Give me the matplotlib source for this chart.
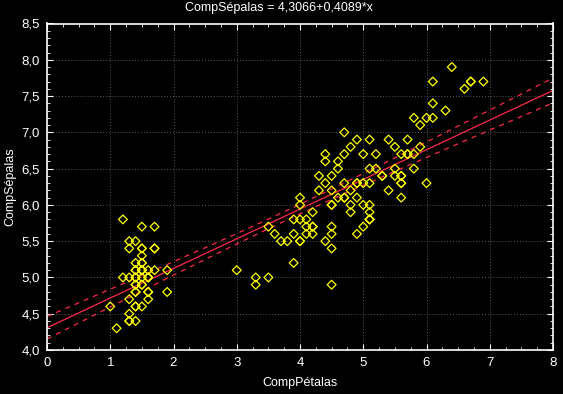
import numpy as np
import matplotlib
matplotlib.use("Agg")
import matplotlib.pyplot as plt
from matplotlib.ticker import MultipleLocator, FuncFormatter

# Iris: petal length (x) vs sepal length (y)
petal_len = [
    1.4, 1.4, 1.3, 1.5, 1.4, 1.7, 1.4, 1.5, 1.4, 1.5, 1.5, 1.6, 1.4, 1.1, 1.2, 1.5, 1.3, 1.4, 1.7, 1.5,
    1.7, 1.5, 1.0, 1.7, 1.9, 1.6, 1.6, 1.5, 1.4, 1.6, 1.6, 1.5, 1.5, 1.4, 1.5, 1.2, 1.3, 1.4, 1.3, 1.5,
    1.3, 1.3, 1.3, 1.6, 1.9, 1.4, 1.6, 1.4, 1.5, 1.4,
    4.7, 4.5, 4.9, 4.0, 4.6, 4.5, 4.7, 3.3, 4.6, 3.9, 3.5, 4.2, 4.0, 4.7, 3.6, 4.4, 4.5, 4.1, 4.5, 3.9,
    4.8, 4.0, 4.9, 4.7, 4.3, 4.4, 4.8, 5.0, 4.5, 3.5, 3.8, 3.7, 3.9, 5.1, 4.5, 4.5, 4.7, 4.4, 4.1, 4.0,
    4.4, 4.6, 4.0, 3.3, 4.2, 4.2, 4.2, 4.3, 3.0, 4.1,
    6.0, 5.1, 5.9, 5.6, 5.8, 6.6, 4.5, 6.3, 5.8, 6.1, 5.1, 5.3, 5.5, 5.0, 5.1, 5.3, 5.5, 6.7, 6.9, 5.0,
    5.7, 4.9, 6.7, 4.9, 5.7, 6.0, 4.8, 4.9, 5.6, 5.8, 6.1, 6.4, 5.6, 5.1, 5.6, 6.1, 5.6, 5.5, 4.8, 5.4,
    5.6, 5.1, 5.1, 5.9, 5.7, 5.2, 5.0, 5.2, 5.4, 5.1,
]
sepal_len = [
    5.1, 4.9, 4.7, 4.6, 5.0, 5.4, 4.6, 5.0, 4.4, 4.9, 5.4, 4.8, 4.8, 4.3, 5.8, 5.7, 5.4, 5.1, 5.7, 5.1,
    5.4, 5.1, 4.6, 5.1, 4.8, 5.0, 5.0, 5.2, 5.2, 4.7, 4.8, 5.4, 5.2, 5.5, 4.9, 5.0, 5.5, 4.9, 4.4, 5.1,
    5.0, 4.5, 4.4, 5.0, 5.1, 4.8, 5.1, 4.6, 5.3, 5.0,
    7.0, 6.4, 6.9, 5.5, 6.5, 5.7, 6.3, 4.9, 6.6, 5.2, 5.0, 5.9, 6.0, 6.1, 5.6, 6.7, 5.6, 5.8, 6.2, 5.6,
    5.9, 6.1, 6.3, 6.1, 6.4, 6.6, 6.8, 6.7, 6.0, 5.7, 5.5, 5.5, 5.8, 6.0, 5.4, 6.0, 6.7, 6.3, 5.6, 5.5,
    5.5, 6.1, 5.8, 5.0, 5.6, 5.7, 5.7, 6.2, 5.1, 5.7,
    6.3, 5.8, 7.1, 6.3, 6.5, 7.6, 4.9, 7.3, 6.7, 7.2, 6.5, 6.4, 6.8, 5.7, 5.8, 6.4, 6.5, 7.7, 7.7, 6.0,
    6.9, 5.6, 7.7, 6.3, 6.7, 7.2, 6.2, 6.1, 6.4, 7.2, 7.4, 7.9, 6.4, 6.3, 6.1, 7.7, 6.3, 6.4, 6.0, 6.9,
    6.7, 6.9, 5.8, 6.8, 6.7, 6.7, 6.3, 6.5, 6.2, 5.9,
]

x = np.array(petal_len)
y = np.array(sepal_len)
n = len(x)
b, a = np.polyfit(x, y, 1)
resid = y - (a + b * x)
s = np.sqrt(np.sum(resid ** 2) / (n - 2))
sxx = np.sum((x - x.mean()) ** 2)
t = 1.976

xs = np.linspace(0, 8, 200)
ys = a + b * xs
half = t * s * np.sqrt(1.0 / n + (xs - x.mean()) ** 2 / sxx)

plt.rcParams['font.family'] = ['Liberation Sans', 'DejaVu Sans']
fig = plt.figure(figsize=(5.63, 3.94), dpi=100, facecolor='black')
ax = fig.add_axes([47 / 563, 1 - 350 / 394, 506 / 563, 326.5 / 394])
ax.set_facecolor('black')

red = '#ff2848'
ax.plot(xs, ys, color=red, lw=0.9)
ax.plot(xs, ys + half, color=red, lw=0.9, ls=(0, (4, 4)))
ax.plot(xs, ys - half, color=red, lw=0.9, ls=(0, (4, 4)))
ax.scatter(x, y, marker='D', s=20, facecolors='none', edgecolors='#ffff00', linewidths=0.9, zorder=3)

ax.set_xlim(0, 8)
ax.set_ylim(4.0, 8.5)
ax.xaxis.set_major_locator(MultipleLocator(1))
ax.xaxis.set_minor_locator(MultipleLocator(0.25))
ax.yaxis.set_major_locator(MultipleLocator(0.5))
ax.yaxis.set_minor_locator(MultipleLocator(0.1))
ax.xaxis.set_major_formatter(FuncFormatter(lambda v, p: '%d' % v))
ax.yaxis.set_major_formatter(FuncFormatter(lambda v, p: ('%.1f' % v).replace('.', ',')))

for sp in ax.spines.values():
    sp.set_color('white')
    sp.set_linewidth(1.2)
ax.tick_params(which='both', direction='in', colors='white', top=True, right=True, labelsize=9.5)
ax.tick_params(which='major', length=4, pad=5)
ax.tick_params(which='minor', length=2.5)
ax.grid(True, which='major', color='#5a5a5a', ls=(0, (1, 2)), lw=0.7)

ax.set_xlabel('CompPétalas', color='white', fontsize=9, labelpad=6)
fig.text(10 / 563, 1 - 187 / 394, 'CompSépalas', color='white', fontsize=9,
         rotation=90, ha='center', va='center')
fig.text(279 / 563, 1 - 8 / 394, 'CompSépalas = 4,3066+0,4089*x', color='white',
         fontsize=9, ha='center', va='center')

fig.savefig('out.png', dpi=100, facecolor='black')
